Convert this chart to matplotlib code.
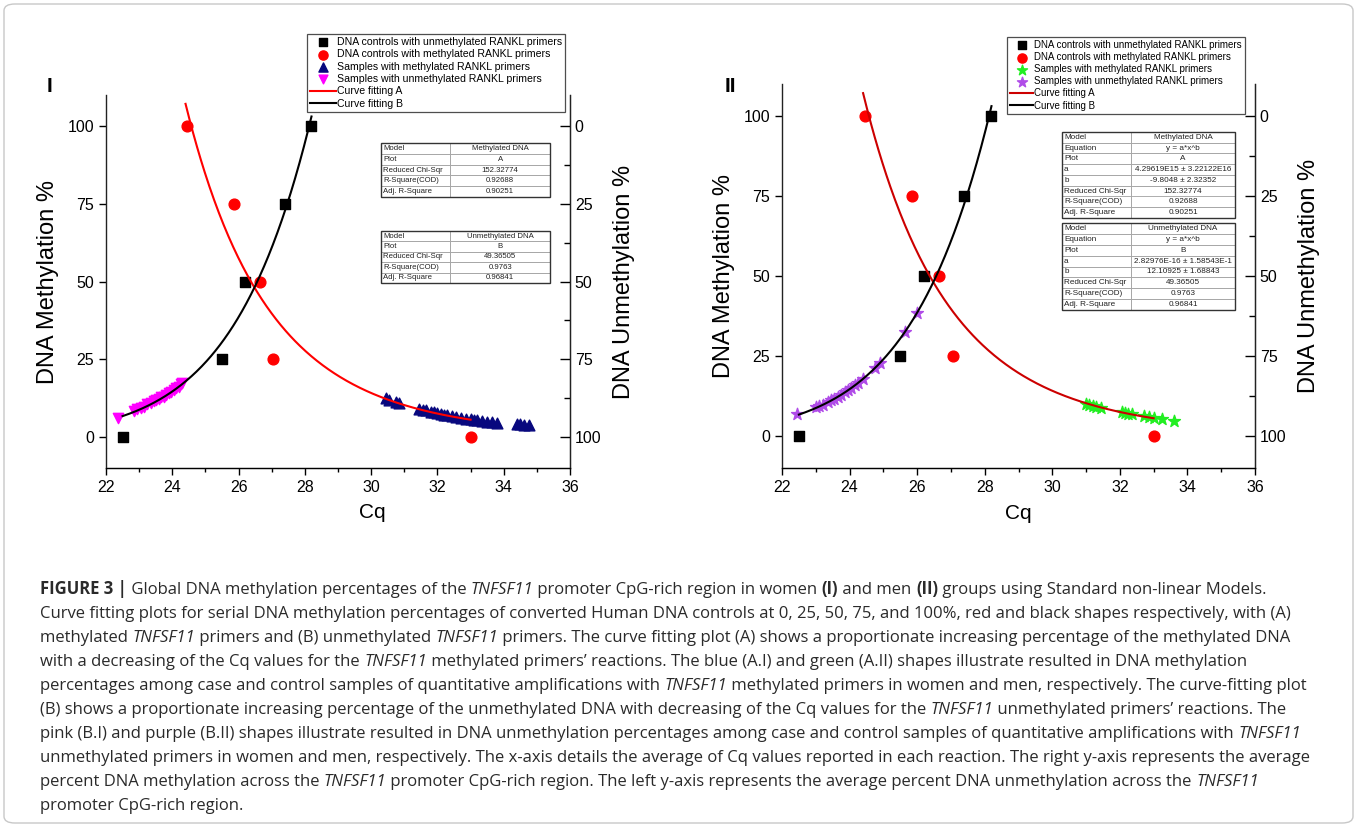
import numpy as np
import matplotlib
matplotlib.use('Agg')
import matplotlib.pyplot as plt
from matplotlib.patches import FancyBboxPatch

W, H = 1357, 827

# DNA controls (same serial dilutions in both panels)
ctrl_unmeth_cq = [22.5, 25.5, 26.2, 27.4, 28.2]
ctrl_unmeth_pct = [0, 25, 50, 75, 100]
ctrl_meth_cq = [24.45, 25.85, 26.65, 27.05, 33.0]
ctrl_meth_pct = [100, 75, 50, 25, 0]

# fitted models y = a*x^b (values from the Origin tables)
fitA_a, fitA_b = 4.29619e15, -9.8048
fitB_a, fitB_b = 2.82976e-16, 12.10925
fitA_span = (24.4, 33.0)
fitB_span = (22.5, 28.2)

# panel I samples (women)
women_meth_cq = [30.45, 30.55, 30.75, 30.85, 31.45, 31.55, 31.65, 31.8, 31.9, 32.0, 32.1, 32.2,
                 32.3, 32.45, 32.55, 32.7, 32.85, 33.0, 33.1, 33.2, 33.35, 33.5, 33.65, 33.8,
                 34.4, 34.5, 34.6, 34.75]
women_meth_pct = [12.4, 12.0, 11.2, 10.9, 9.0, 8.8, 8.5, 8.1, 7.9, 7.6, 7.4, 7.2,
                  6.9, 6.6, 6.4, 6.2, 5.9, 5.7, 5.5, 5.3, 5.1, 4.9, 4.7, 4.5,
                  4.1, 4.0, 3.9, 3.8]
women_unmeth_cq = [22.35, 22.85, 22.95, 23.05, 23.15, 23.25, 23.35, 23.45, 23.5, 23.6, 23.65,
                   23.75, 23.8, 23.9, 23.95, 24.05, 24.1, 24.2, 24.25, 24.3]
women_unmeth_pct = [6.0, 8.3, 8.9, 9.3, 9.7, 10.6, 11.0, 11.4, 11.9, 12.2, 12.8,
                    13.0, 13.6, 14.0, 14.6, 15.2, 15.8, 16.2, 16.9, 17.4]

# panel II samples (men)
men_meth_cq = [31.0, 31.1, 31.2, 31.3, 31.45, 32.05, 32.15, 32.25, 32.35, 32.7, 32.85, 33.0,
               33.25, 33.6]
men_meth_pct = [10.0, 9.7, 9.4, 9.1, 8.7, 7.4, 7.2, 7.0, 6.8, 6.1, 5.9, 5.6, 5.2, 4.7]
men_unmeth_cq = [22.45, 23.0, 23.1, 23.2, 23.35, 23.45, 23.55, 23.65, 23.75, 23.85, 23.95,
                 24.05, 24.15, 24.25, 24.4, 24.75, 24.9, 25.65, 26.0]
men_unmeth_pct = [7.0, 9.0, 9.3, 9.8, 10.5, 11.1, 11.6, 12.2, 12.9, 13.6, 14.3,
                  15.0, 15.8, 16.6, 17.9, 21.2, 22.8, 32.5, 38.5]

tableA_I = [["Model", "Methylated DNA"], ["Plot", "A"], ["Reduced Chi-Sqr", "152.32774"],
            ["R-Square(COD)", "0.92688"], ["Adj. R-Square", "0.90251"]]
tableB_I = [["Model", "Unmethylated DNA"], ["Plot", "B"], ["Reduced Chi-Sqr", "49.36505"],
            ["R-Square(COD)", "0.9763"], ["Adj. R-Square", "0.96841"]]
tableA_II = [["Model", "Methylated DNA"], ["Equation", "y = a*x^b"], ["Plot", "A"],
             ["a", "4.29619E15 \u00b1 3.22122E16"], ["b", "-9.8048 \u00b1 2.32352"],
             ["Reduced Chi-Sqr", "152.32774"], ["R-Square(COD)", "0.92688"],
             ["Adj. R-Square", "0.90251"]]
tableB_II = [["Model", "Unmethylated DNA"], ["Equation", "y = a*x^b"], ["Plot", "B"],
             ["a", "2.82976E-16 \u00b1 1.58543E-1"], ["b", "12.10925 \u00b1 1.68843"],
             ["Reduced Chi-Sqr", "49.36505"], ["R-Square(COD)", "0.9763"],
             ["Adj. R-Square", "0.96841"]]

legend_labels = ["DNA controls with unmethylated RANKL primers",
                 "DNA controls with methylated RANKL primers",
                 "Samples with methylated RANKL primers",
                 "Samples with unmethylated RANKL primers",
                 "Curve fitting A", "Curve fitting B"]

plt.rcParams['font.family'] = ['Liberation Sans', 'DejaVu Sans']

fig = plt.figure(figsize=(W / 100, H / 100), dpi=100)


def rect(x0, y0, x1, y1):
    return [x0 / W, 1 - y1 / H, (x1 - x0) / W, (y1 - y0) / H]


def panel(box, meth_cq, meth_pct, unmeth_cq, unmeth_pct, styleA, styleB, redcurve, cq_x):
    ax = fig.add_axes(rect(*box))
    ax.set_xlim(22, 36)
    ax.set_ylim(-10, 110)
    ax.spines['top'].set_visible(False)
    for s in ax.spines.values():
        s.set_linewidth(1.0)
        s.set_color('#222222')
    ax.set_xticks(np.arange(22, 37, 2))
    ax.set_xticks(np.arange(23, 36, 2), minor=True)
    ax.set_yticks([0, 25, 50, 75, 100])
    ax.tick_params(axis='both', labelsize=11.5, direction='out', length=5, width=1)
    ax.tick_params(axis='x', which='minor', direction='out', length=3, width=1)
    ax.set_xlabel("Cq", fontsize=15, labelpad=8)
    ax.xaxis.set_label_coords(cq_x, -0.095)
    ax.set_ylabel("DNA Methylation %", fontsize=17, labelpad=6)

    ax2 = ax.twinx()
    ax2.set_ylim(110, -10)
    ax2.set_yticks([0, 25, 50, 75, 100])
    ax2.set_yticks([12.5, 37.5, 62.5, 87.5], minor=True)
    ax2.tick_params(axis='y', labelsize=11.5, direction='in', length=7, width=1)
    ax2.tick_params(axis='y', which='minor', direction='in', length=4, width=1)
    ax2.spines['top'].set_visible(False)
    ax2.spines['left'].set_visible(False)
    ax2.spines['right'].set_color('#222222')
    ax2.set_ylabel("DNA Unmethylation %", fontsize=17, labelpad=8)

    xa = np.linspace(fitA_span[0], fitA_span[1], 300)
    xb = np.linspace(fitB_span[0], fitB_span[1], 300)
    h1 = ax.scatter(ctrl_unmeth_cq, ctrl_unmeth_pct, marker='s', s=50, color='black', zorder=4)
    h2 = ax.scatter(ctrl_meth_cq, ctrl_meth_pct, marker='o', s=60, color='#ff0000', zorder=4)
    h3 = ax.scatter(meth_cq, meth_pct, zorder=3, **styleA)
    h4 = ax.scatter(unmeth_cq, unmeth_pct, zorder=3, **styleB)
    h5, = ax.plot(xa, fitA_a * xa ** fitA_b, color=redcurve, lw=1.5, zorder=5)
    h6, = ax.plot(xb, fitB_a * xb ** fitB_b, color='black', lw=1.5, zorder=5)
    return ax, [h1, h2, h3, h4, h5, h6]


def table(box, rows, fs, split):
    tax = fig.add_axes(rect(*box))
    tax.axis('off')
    t = tax.table(cellText=rows, bbox=[0, 0, 1, 1], colWidths=[split, 1 - split],
                  cellLoc='center')
    t.auto_set_font_size(False)
    for (r, c), cell in t.get_celld().items():
        cell.set_edgecolor('#a0a0a0')
        cell.set_linewidth(0.6)
        txt = cell.get_text()
        txt.set_fontsize(fs)
        txt.set_color('#222222')
        if c == 0:
            cell._loc = 'left'
            cell.PAD = 0.03
            txt.set_horizontalalignment('left')
    border = plt.Rectangle((0, 0), 1, 1, transform=tax.transAxes, fill=False,
                           edgecolor='#333333', lw=1.0, clip_on=False)
    tax.add_patch(border)


axI, hI = panel((106, 95, 570, 468), women_meth_cq, women_meth_pct, women_unmeth_cq,
                women_unmeth_pct,
                dict(marker='^', s=60, color='#08087e'),
                dict(marker='v', s=55, color='#ff00ff'), '#ff0000', 0.575)
axII, hII = panel((782, 84, 1255, 468), men_meth_cq, men_meth_pct, men_unmeth_cq,
                  men_unmeth_pct,
                  dict(marker='*', s=80, color='#22ee22'),
                  dict(marker='*', s=80, color='#b04ce8'), '#cc0000', 0.5)

fig.text(49 / W, 1 - 87 / H, "I", fontsize=15, fontweight='bold', ha='center', va='center')
fig.text(730 / W, 1 - 87 / H, "II", fontsize=15, fontweight='bold', ha='center', va='center')

for h_, anchor, fs in [(hI, (307, 34), 7.6), (hII, (1007, 37), 7.0)]:
    leg = fig.legend(h_, legend_labels, loc='upper left',
                     bbox_to_anchor=(anchor[0] / W, 1 - anchor[1] / H),
                     fontsize=fs, frameon=True, fancybox=False, edgecolor='#222222',
                     labelspacing=0.22, handlelength=2.4, handletextpad=0.1,
                     borderpad=0.3, borderaxespad=0, markerscale=0.85)
    leg.get_frame().set_linewidth(0.9)

table((381, 143, 550, 197), tableA_I, 5.6, 0.41)
table((381, 231, 550, 283), tableB_I, 5.6, 0.41)
table((1062, 132, 1235, 218), tableA_II, 5.9, 0.40)
table((1062, 223, 1235, 310), tableB_II, 5.9, 0.40)

# outer frame
frame = FancyBboxPatch((4 / W, 4 / H), 1 - 8 / W, 1 - 8 / H,
                       boxstyle="round,pad=0,rounding_size=0.008",
                       transform=fig.transFigure, fill=False, edgecolor='#c8c8c8', lw=1)
fig.patches.append(frame)

# caption with mixed styles
cap = [
    [("FIGURE 3 |", 'b'), (" Global DNA methylation percentages of the ", 'n'), ("TNFSF11", 'i'),
     (" promoter CpG-rich region in women ", 'n'), ("(I)", 'b'), (" and men ", 'n'), ("(II)", 'b'),
     (" groups using Standard non-linear Models.", 'n')],
    [("Curve fitting plots for serial DNA methylation percentages of converted Human DNA controls at 0, 25, 50, 75, and 100%, red and black shapes respectively, with (A)", 'n')],
    [("methylated ", 'n'), ("TNFSF11", 'i'), (" primers and (B) unmethylated ", 'n'), ("TNFSF11", 'i'),
     (" primers. The curve fitting plot (A) shows a proportionate increasing percentage of the methylated DNA", 'n')],
    [("with a decreasing of the Cq values for the ", 'n'), ("TNFSF11", 'i'),
     (" methylated primers\u2019 reactions. The blue (A.I) and green (A.II) shapes illustrate resulted in DNA methylation", 'n')],
    [("percentages among case and control samples of quantitative amplifications with ", 'n'), ("TNFSF11", 'i'),
     (" methylated primers in women and men, respectively. The curve-fitting plot", 'n')],
    [("(B) shows a proportionate increasing percentage of the unmethylated DNA with decreasing of the Cq values for the ", 'n'),
     ("TNFSF11", 'i'), (" unmethylated primers\u2019 reactions. The", 'n')],
    [("pink (B.I) and purple (B.II) shapes illustrate resulted in DNA unmethylation percentages among case and control samples of quantitative amplifications with ", 'n'),
     ("TNFSF11", 'i')],
    [("unmethylated primers in women and men, respectively. The x-axis details the average of Cq values reported in each reaction. The right y-axis represents the average", 'n')],
    [("percent DNA methylation across the ", 'n'), ("TNFSF11", 'i'),
     (" promoter CpG-rich region. The left y-axis represents the average percent DNA unmethylation across the ", 'n'),
     ("TNFSF11", 'i')],
    [("promoter CpG-rich region.", 'n')],
]

renderer = fig.canvas.get_renderer()
y = 594
for line in cap:
    x = 40
    for txt, st in line:
        t = fig.text(x / W, 1 - y / H, txt, fontsize=12, color='#2a2a2a', va='baseline',
                     family=['Open Sans', 'DejaVu Sans'],
                     fontweight='bold' if st == 'b' else 'normal',
                     fontstyle='italic' if st == 'i' else 'normal')
        bb = t.get_window_extent(renderer=renderer)
        x += bb.width
    y += 24

fig.savefig("out.png", dpi=100)
